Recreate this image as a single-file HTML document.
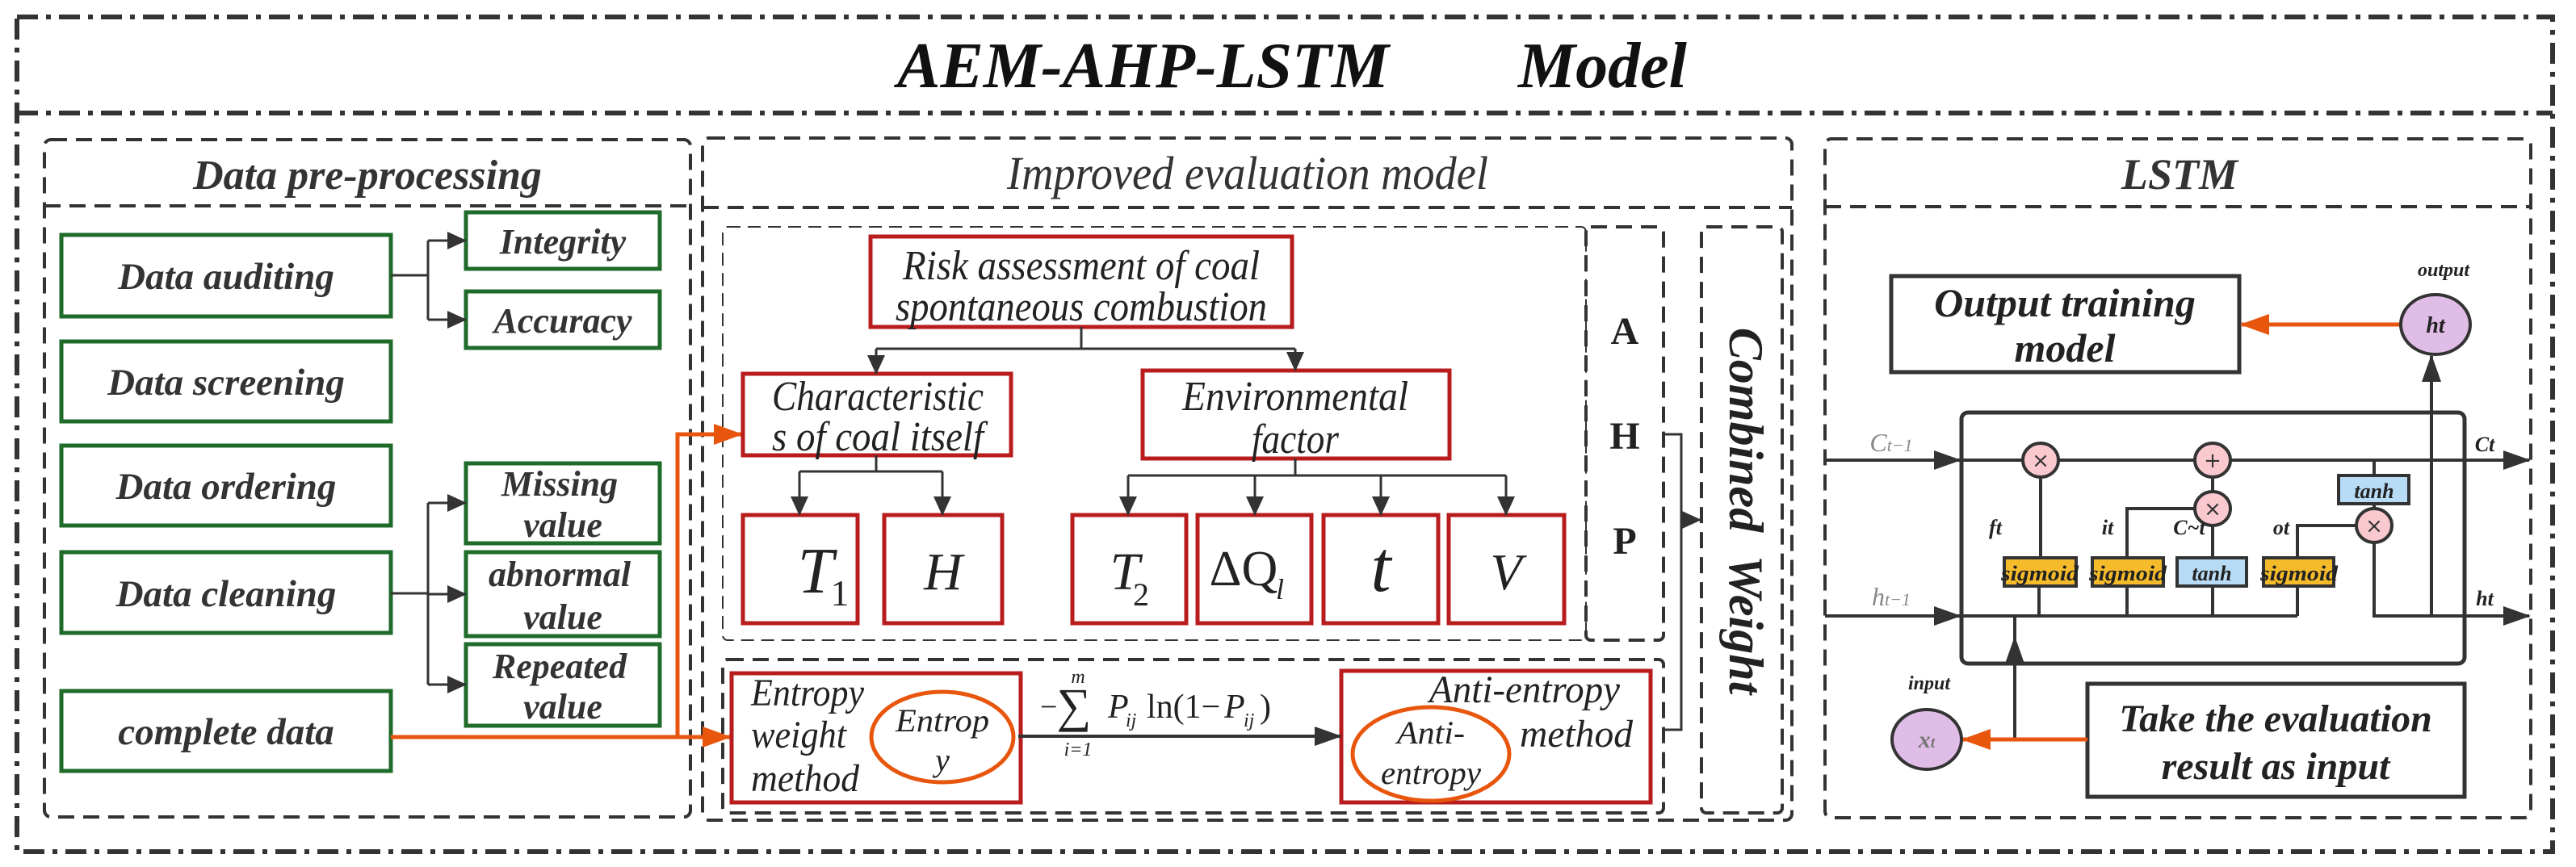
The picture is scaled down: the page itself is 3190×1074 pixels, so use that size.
<!DOCTYPE html>
<html><head><meta charset="utf-8"><style>html,body{margin:0;padding:0;background:#fff}svg{display:block}</style></head>
<body>
<svg width="3190" height="1074" viewBox="0 0 3190 1074" xmlns="http://www.w3.org/2000/svg" font-family="Liberation Serif, serif">
<defs>
<marker id="akb" markerWidth="34" markerHeight="24" refX="32" refY="12" orient="auto" markerUnits="userSpaceOnUse" viewBox="0 0 34 24"><path d="M0,0 L34,12 L0,24 z" fill="#333"/></marker>
<marker id="ao" markerWidth="36" markerHeight="26" refX="34" refY="13" orient="auto" markerUnits="userSpaceOnUse" viewBox="0 0 36 26"><path d="M0,0 L36,13 L0,26 z" fill="#e8560e"/></marker>
<marker id="as" markerWidth="24" markerHeight="22" refX="23" refY="11" orient="auto" markerUnits="userSpaceOnUse" viewBox="0 0 24 22"><path d="M0,0 L24,11 L0,22 z" fill="#333"/></marker>
</defs>
<g fill="none" stroke="#333">
<rect x="21" y="21" width="3140" height="1034" stroke-width="6" stroke-dasharray="26 10 6 10"/>
<line x1="21" y1="140" x2="3161" y2="140" stroke-width="6" stroke-dasharray="26 10 6 10"/>
<g stroke-width="4" stroke-dasharray="20 11">
<rect x="55" y="173" width="800" height="839" rx="8"/>
<line x1="55" y1="255" x2="855" y2="255"/>
<rect x="870" y="171" width="1349" height="845" rx="8"/>
<line x1="870" y1="257" x2="2219" y2="257"/>
<rect x="2260" y="172" width="874" height="841" rx="8"/>
<line x1="2260" y1="256" x2="3134" y2="256"/>
<rect x="1964" y="281" width="96" height="512" rx="6"/>
<rect x="2107" y="281" width="100" height="726" rx="6"/>
<rect x="895" y="817" width="1165" height="190" rx="6"/>
</g>
<rect x="895" y="281" width="1069" height="512" rx="6" stroke-width="2" stroke-dasharray="16 9"/>
</g>
<g font-weight="bold" font-style="italic" fill="#111" text-anchor="middle">
<text x="1600" y="108" font-size="80" xml:space="preserve">AEM-AHP-LSTM        Model</text>
</g>
<g font-weight="bold" font-style="italic" fill="#333" text-anchor="middle" font-size="52">
<text x="455" y="234">Data pre-processing</text>
<text x="1545" y="234" font-weight="normal" font-size="58" textLength="596" lengthAdjust="spacingAndGlyphs">Improved evaluation model</text>
<text x="2699" y="234" font-size="54">LSTM</text>
</g>
<g fill="none" stroke="#1f6b2a" stroke-width="5">
<rect x="76" y="291" width="408" height="101"/>
<rect x="76" y="423" width="408" height="99"/>
<rect x="76" y="552" width="408" height="99"/>
<rect x="76" y="684" width="408" height="100"/>
<rect x="76" y="856" width="408" height="99"/>
<rect x="577" y="263" width="240" height="70"/>
<rect x="577" y="361" width="240" height="70"/>
<rect x="577" y="574" width="240" height="99"/>
<rect x="577" y="684" width="240" height="104"/>
<rect x="577" y="798" width="240" height="101"/>
</g>
<g font-weight="bold" font-style="italic" fill="#333" text-anchor="middle" font-size="47">
<text x="280" y="358">Data auditing</text>
<text x="280" y="489">Data screening</text>
<text x="280" y="618">Data ordering</text>
<text x="280" y="751">Data cleaning</text>
<text x="280" y="922">complete data</text>
<text x="697" y="314" font-size="44">Integrity</text>
<text x="697" y="412" font-size="44">Accuracy</text>
<text x="693" y="614" font-size="44">Missing</text>
<text x="697" y="665" font-size="44">value</text>
<text x="693" y="726" font-size="44">abnormal</text>
<text x="697" y="779" font-size="44">value</text>
<text x="693" y="840" font-size="44">Repeated</text>
<text x="697" y="890" font-size="44">value</text>
</g>
<g fill="none" stroke="#333" stroke-width="3">
<polyline points="484,341 530,341"/>
<polyline points="530,298 530,396"/>
<line x1="530" y1="298" x2="577" y2="298" marker-end="url(#as)"/>
<line x1="530" y1="396" x2="577" y2="396" marker-end="url(#as)"/>
<line x1="484" y1="735" x2="530" y2="735"/>
<polyline points="530,623 530,848"/>
<line x1="530" y1="623" x2="577" y2="623" marker-end="url(#as)"/>
<line x1="530" y1="736" x2="577" y2="736" marker-end="url(#as)"/>
<line x1="530" y1="848" x2="577" y2="848" marker-end="url(#as)"/>
</g>
<g fill="none" stroke="#e8560e" stroke-width="5">
<line x1="484" y1="913" x2="904" y2="913" marker-end="url(#ao)"/>
<polyline points="839,913 839,538 918,538" marker-end="url(#ao)"/>
</g>
<g fill="none" stroke="#b81c1c" stroke-width="5">
<rect x="1078" y="293" width="522" height="112"/>
<rect x="920" y="463" width="332" height="101"/>
<rect x="1415" y="459" width="380" height="109"/>
<rect x="920" y="638" width="142" height="134"/>
<rect x="1095" y="638" width="146" height="134"/>
<rect x="1328" y="638" width="141" height="134"/>
<rect x="1483" y="638" width="141" height="134"/>
<rect x="1639" y="638" width="142" height="134"/>
<rect x="1794" y="638" width="143" height="134"/>
<rect x="906" y="834" width="358" height="160"/>
<rect x="1661" y="831" width="383" height="163"/>
</g>
<g fill="none" stroke="#e8560e" stroke-width="5">
<ellipse cx="1167" cy="913" rx="88" ry="56"/>
<ellipse cx="1772" cy="934" rx="97" ry="58"/>
</g>
<g fill="none" stroke="#333" stroke-width="3">
<polyline points="1339,405 1339,432"/>
<polyline points="1085,432 1604,432"/>
<line x1="1085" y1="432" x2="1085" y2="463" marker-end="url(#as)"/>
<line x1="1604" y1="432" x2="1604" y2="459" marker-end="url(#as)"/>
<line x1="1085" y1="564" x2="1085" y2="584"/>
<polyline points="990,584 1167,584"/>
<line x1="990" y1="584" x2="990" y2="638" marker-end="url(#as)"/>
<line x1="1167" y1="584" x2="1167" y2="638" marker-end="url(#as)"/>
<line x1="1604" y1="568" x2="1604" y2="589"/>
<polyline points="1397,589 1865,589"/>
<line x1="1397" y1="589" x2="1397" y2="638" marker-end="url(#as)"/>
<line x1="1554" y1="589" x2="1554" y2="638" marker-end="url(#as)"/>
<line x1="1710" y1="589" x2="1710" y2="638" marker-end="url(#as)"/>
<line x1="1865" y1="589" x2="1865" y2="638" marker-end="url(#as)"/>
<line x1="1261" y1="912" x2="1660" y2="912" stroke-width="4" marker-end="url(#akb)"/>
<polyline points="2060,538 2082,538 2082,904 2060,904"/>
<line x1="2082" y1="644" x2="2106" y2="644" marker-end="url(#as)"/>
</g>
<g font-style="italic" fill="#222" text-anchor="middle" font-size="52">
<text x="1339" y="346" textLength="442" lengthAdjust="spacingAndGlyphs">Risk assessment of coal</text>
<text x="1339" y="397" textLength="460" lengthAdjust="spacingAndGlyphs">spontaneous combustion</text>
<text x="1087" y="508" textLength="262" lengthAdjust="spacingAndGlyphs">Characteristic</text>
<text x="1087" y="558" textLength="262" lengthAdjust="spacingAndGlyphs">s of coal itself</text>
<text x="1604" y="508" textLength="280" lengthAdjust="spacingAndGlyphs">Environmental</text>
<text x="1604" y="561" textLength="108" lengthAdjust="spacingAndGlyphs">factor</text>
<text x="1010" y="734" font-size="80">T</text><text x="1040" y="750" font-style="normal" font-size="46">1</text>
<text x="1168" y="730" font-size="66">H</text>
<text x="1393" y="730" font-size="66">T</text><text x="1413" y="750" font-style="normal" font-size="40">2</text>
<text x="1540" y="725" font-size="62" font-style="normal">ΔQ</text><text x="1585" y="742" font-size="36">l</text>
<text x="1710" y="732" font-size="90">t</text>
<text x="1865" y="730" font-size="64">V</text>
<text x="930" y="874" text-anchor="start" font-size="48" textLength="140" lengthAdjust="spacingAndGlyphs">Entropy</text>
<text x="930" y="926" text-anchor="start" font-size="48" textLength="118" lengthAdjust="spacingAndGlyphs">weight</text>
<text x="930" y="980" text-anchor="start" font-size="48" textLength="134" lengthAdjust="spacingAndGlyphs">method</text>
<text x="1167" y="906" font-size="40" textLength="116" lengthAdjust="spacingAndGlyphs">Entrop</text>
<text x="1167" y="955" font-size="40">y</text>
<text x="1888" y="870" font-size="48" textLength="236" lengthAdjust="spacingAndGlyphs">Anti-entropy</text>
<text x="1952" y="925" font-size="48" textLength="140" lengthAdjust="spacingAndGlyphs">method</text>
<text x="1772" y="921" font-size="40" textLength="84" lengthAdjust="spacingAndGlyphs">Anti-</text>
<text x="1772" y="971" font-size="40" textLength="124" lengthAdjust="spacingAndGlyphs">entropy</text>
<text x="1288" y="888" text-anchor="start" font-size="38" font-style="normal">−</text>
<text x="1330" y="894" font-size="60" font-style="normal">∑</text>
<text x="1335" y="846" font-size="24">m</text>
<text x="1335" y="936" font-size="24">i=1</text>
<text x="1372" y="889" text-anchor="start" font-size="42">P</text>
<text x="1394" y="900" text-anchor="start" font-size="24">ij</text>
<text x="1420" y="889" text-anchor="start" font-size="42" font-style="normal">ln(1−</text>
<text x="1516" y="889" text-anchor="start" font-size="42">P</text>
<text x="1540" y="900" text-anchor="start" font-size="24">ij</text>
<text x="1560" y="889" text-anchor="start" font-size="42" font-style="normal">)</text>
</g>
<g font-weight="bold" fill="#222" text-anchor="middle" font-size="48">
<text x="2012" y="426">A</text>
<text x="2012" y="556">H</text>
<text x="2012" y="686">P</text>
<text transform="translate(2142,633) rotate(90)" font-style="italic" font-size="60" xml:space="preserve">Combined  Weight</text>
</g>
<g fill="none" stroke="#333" stroke-width="5">
<rect x="2342" y="342" width="431" height="119"/>
<rect x="2585" y="847" width="467" height="140"/>
<rect x="2429" y="511" width="623" height="311" rx="8"/>
</g>
<g fill="none" stroke="#333" stroke-width="4">
<line x1="2260" y1="570" x2="2427" y2="570" marker-end="url(#akb)"/>
<line x1="2260" y1="763" x2="2427" y2="763" marker-end="url(#akb)"/>
<line x1="2429" y1="570" x2="3132" y2="570" marker-end="url(#akb)"/>
<polyline points="2429,763 2845,763"/>
<polyline points="2527,691 2527,593"/>
<polyline points="2634,691 2634,630 2717,630"/>
<polyline points="2740,691 2740,651"/>
<polyline points="2740,609 2740,593"/>
<polyline points="2845,691 2845,651 2917,651"/>
<polyline points="2940,570 2940,589"/>
<polyline points="2940,624 2940,630"/>
<polyline points="2940,672 2940,763 3132,763" marker-end="url(#akb)"/>
<line x1="3011" y1="763" x2="3011" y2="441" marker-end="url(#akb)"/>
<polyline points="2525,726 2525,763"/><polyline points="2634,726 2634,763"/><polyline points="2740,726 2740,763"/><polyline points="2845,726 2845,763"/>
<line x1="2495" y1="916" x2="2495" y2="790" marker-end="url(#akb)"/>
<line x1="2495" y1="790" x2="2495" y2="763"/>
</g>
<g fill="none" stroke="#e8560e" stroke-width="5">
<line x1="2973" y1="402" x2="2776" y2="402" marker-end="url(#ao)"/>
<line x1="2585" y1="916" x2="2431" y2="916" marker-end="url(#ao)"/>
</g>
<g stroke="#333" stroke-width="4">
<ellipse cx="3016" cy="402" rx="43" ry="37" fill="#e0bde6"/>
<ellipse cx="2386" cy="916" rx="43" ry="37" fill="#e0bde6"/>
<ellipse cx="2527" cy="570" rx="22" ry="21" fill="#f9c9cf"/>
<ellipse cx="2740" cy="570" rx="22" ry="21" fill="#f9c9cf"/>
<ellipse cx="2740" cy="630" rx="22" ry="21" fill="#f9c9cf"/>
<ellipse cx="2940" cy="651" rx="22" ry="21" fill="#f9c9cf"/>
<rect x="2896" y="589" width="87" height="35" fill="#b8dcf5"/>
<rect x="2482" y="691" width="89" height="35" fill="#f5bb2a"/>
<rect x="2591" y="691" width="88" height="35" fill="#f5bb2a"/>
<rect x="2696" y="691" width="86" height="35" fill="#b8dcf5"/>
<rect x="2803" y="691" width="87" height="35" fill="#f5bb2a"/>
</g>
<g fill="#333" text-anchor="middle" font-size="26" font-family="DejaVu Sans, sans-serif">
<text x="2527" y="579">×</text><text x="2740" y="579">+</text><text x="2740" y="639">×</text><text x="2940" y="660">×</text>
</g>
<g font-weight="bold" font-style="italic" fill="#222" text-anchor="middle">
<text x="2557" y="392" font-size="50">Output training</text>
<text x="2557" y="448" font-size="50">model</text>
<text x="2818" y="906" font-size="48">Take the evaluation</text>
<text x="2818" y="965" font-size="48">result as input</text>
<text x="3016" y="412" font-size="28">ht</text>
<text x="3026" y="342" font-size="24">output</text>
<text x="2389" y="854" font-size="24">input</text>
<text x="2386" y="926" font-size="30" fill="#777">x<tspan font-size="20">t</tspan></text>
<text x="2940" y="617" font-size="26">tanh</text>
<text x="2739" y="719" font-size="26">tanh</text>
<text x="2526" y="719" font-size="26" textLength="96" lengthAdjust="spacingAndGlyphs">sigmoid</text>
<text x="2635" y="719" font-size="26" textLength="96" lengthAdjust="spacingAndGlyphs">sigmoid</text>
<text x="2847" y="719" font-size="26" textLength="96" lengthAdjust="spacingAndGlyphs">sigmoid</text>
<text x="2471" y="662" font-size="26">ft</text>
<text x="2610" y="662" font-size="26">it</text>
<text x="2711" y="662" font-size="26">C~t</text>
<text x="2825" y="662" font-size="26">ot</text>
<text x="3077" y="559" font-size="26">Ct</text>
<text x="3077" y="750" font-size="26">ht</text>
<text x="2342" y="559" font-size="32" fill="#888" font-weight="normal">C<tspan font-size="22">t−1</tspan></text>
<text x="2342" y="750" font-size="32" fill="#888" font-weight="normal">h<tspan font-size="22">t−1</tspan></text>
</g>
</svg>
</body></html>
